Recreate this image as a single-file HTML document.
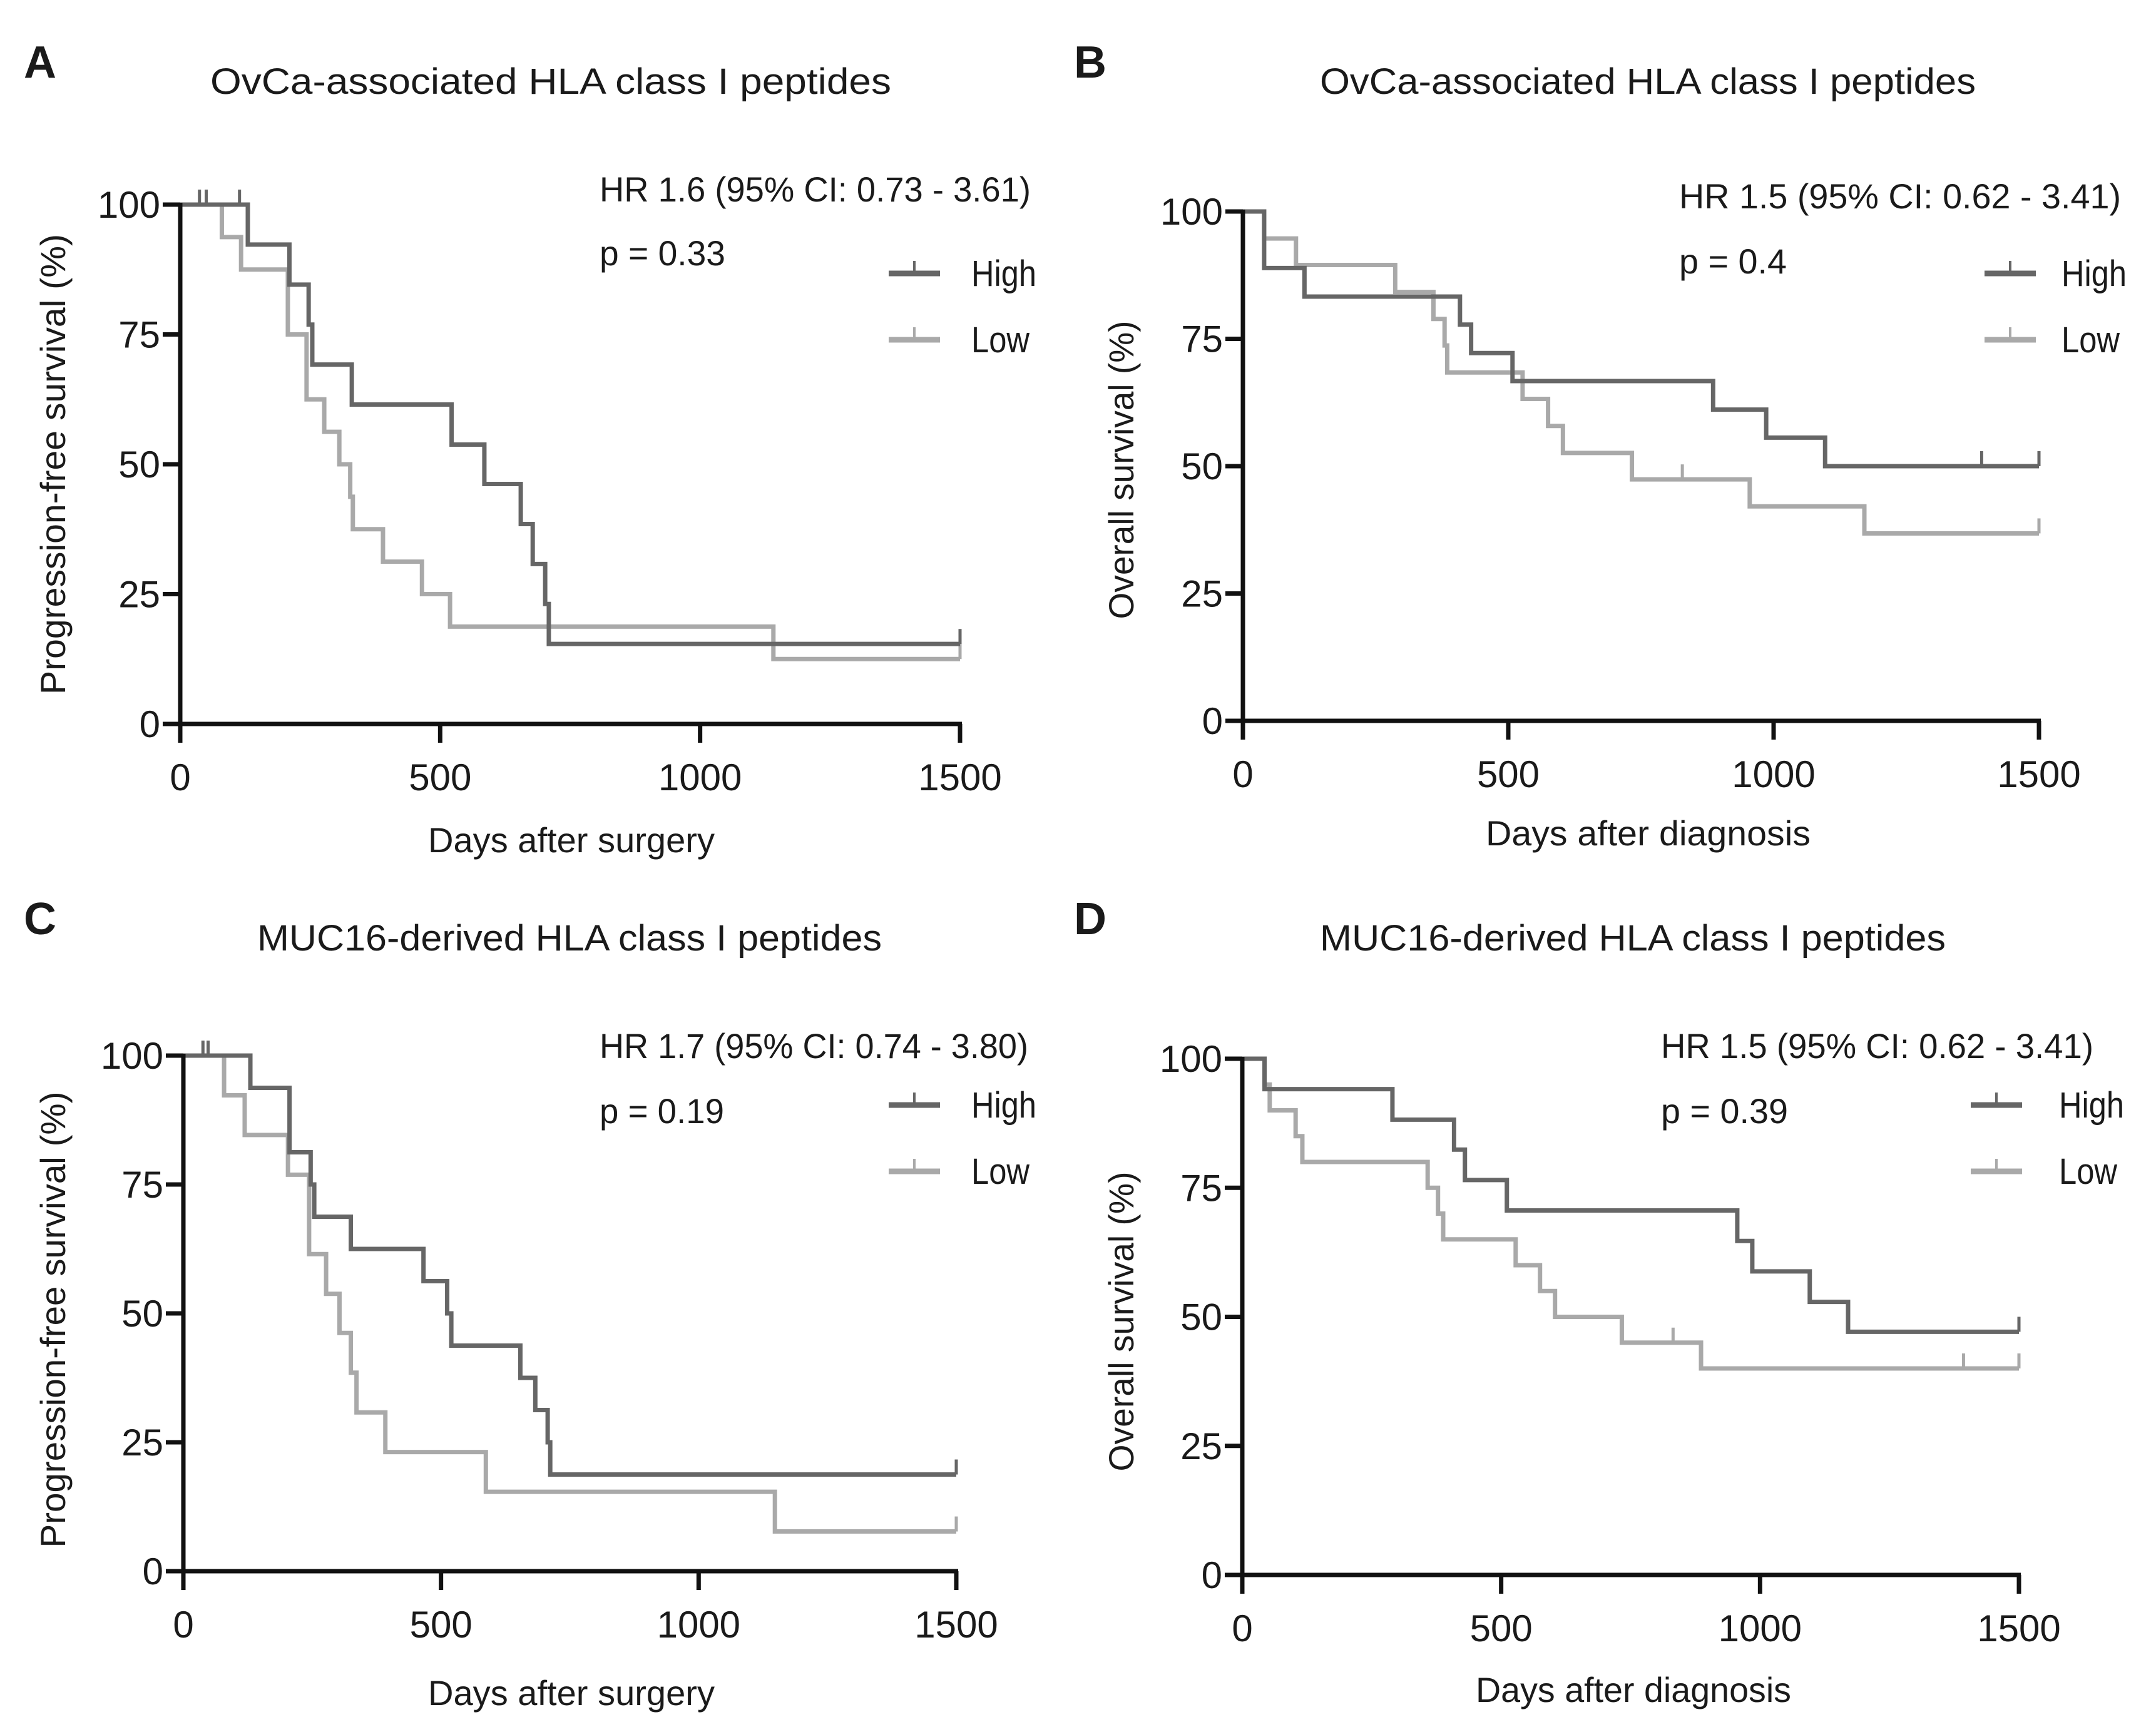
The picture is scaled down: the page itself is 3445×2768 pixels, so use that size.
<!DOCTYPE html>
<html><head><meta charset="utf-8"><style>
html,body{margin:0;padding:0;background:#fff;}
svg{display:block;}
text{font-family:"Liberation Sans Narrow","Liberation Sans",sans-serif;fill:#1a1a1a;}
</style></head><body>
<svg id="fig" width="3445" height="2768" viewBox="0 0 3445 2768" xmlns="http://www.w3.org/2000/svg"></svg>
<script>
// Panel A data
const aHighTimes=[0,130,210,247,254,330,522,585,655,678,702,709];
const aHighSurv=[100,92.3,84.6,76.9,69.2,61.5,53.8,46.2,38.5,30.8,23.1,15.4];
const aHighCens=[37,50,114,1500];
const aLowTimes=[0,80,117,207,243,277,306,327,332,390,465,519,1141];
const aLowSurv=[100,93.75,87.5,75,62.5,56.25,50,43.75,37.5,31.25,25,18.75,12.5];
const aLowCens=[1500];
// Panel B data
const bHighTimes=[0,40,116,409,430,508,886,986,1097];
const bHighSurv=[100,88.9,83.3,77.8,72.2,66.7,61.1,55.6,50];
const bHighCens=[1392,1500];
const bLowTimes=[0,40,100,287,359,380,385,527,575,603,733,955,1171];
const bLowSurv=[100,94.7,89.5,84.2,78.9,73.7,68.4,63.2,57.9,52.6,47.4,42.1,36.8];
const bLowCens=[828,1500];
// Panel C data
const cHighTimes=[0,130,206,247,254,325,466,512,520,654,683,707,712];
const cHighSurv=[100,93.75,81.25,75,68.75,62.5,56.25,50,43.75,37.5,31.25,25,18.75];
const cHighCens=[38,48,1500];
const cLowTimes=[0,79,119,203,244,277,303,325,336,392,587,1148];
const cLowSurv=[100,92.3,84.6,76.9,61.5,53.8,46.2,38.5,30.8,23.1,15.4,7.7];
const cLowCens=[1500];
// Panel D data
const dHighTimes=[0,43,290,409,430,511,956,985,1096,1170];
const dHighSurv=[100,94.1,88.2,82.4,76.5,70.6,64.7,58.8,52.9,47.1];
const dHighCens=[1500];
const dLowTimes=[0,43,53,103,116,358,378,388,528,575,604,733,886];
const dLowSurv=[100,95,90,85,80,75,70,65,60,55,50,45,40];
const dLowCens=[832,1393,1500];
const xTicks=[0,500,1000,1500];
const yTicks=[0,25,50,75,100];

const NS="http://www.w3.org/2000/svg";
const svg=document.getElementById('fig');
function mk(tag,attrs,parent){const e=document.createElementNS(NS,tag);for(const k in attrs)e.setAttribute(k,attrs[k]);(parent||svg).appendChild(e);return e;}
function txt(parent,x,y,s,size,opts){opts=opts||{};const t=mk('text',{x:x,y:y,'font-size':size,'text-anchor':opts.anchor||'start'},parent);
 if(opts.len){t.setAttribute('textLength',opts.len);t.setAttribute('lengthAdjust','spacingAndGlyphs');}
 if(opts.bold)t.setAttribute('font-weight','bold');
 if(opts.rot)t.setAttribute('transform','rotate(-90 '+x+' '+y+')');
 t.textContent=s;return t;}

const HIGH='#666666', LOW='#a9a9a9';
const panels=[
 {id:'a',letter:'A',lx:38,ly:124,x0:288,x1:1534,y0:1157,y1:327,title:'OvCa-associated HLA class I peptides',tx:336,tl:1088,tb:150,
  hr:'HR 1.6 (95% CI: 0.73 - 3.61)',hrx:958,hrl:689,hrb:322,p:'p = 0.33',pl:201,pb:424,legx:1420,legtx:1552,legy:437,
  xt:'Days after surgery',xtx:684,xtl:458,xtb:1362,yt:'Progression-free survival (%)',ytx:104,ytc:742,ytl:736,
  high:[aHighTimes,aHighSurv,aHighCens],low:[aLowTimes,aLowSurv,aLowCens]},
 {id:'b',letter:'B',lx:1716,ly:124,x0:1986,x1:3258,y0:1152,y1:338,title:'OvCa-associated HLA class I peptides',tx:2109,tl:1048,tb:150,
  hr:'HR 1.5 (95% CI: 0.62 - 3.41)',hrx:2683,hrl:706,hrb:333,p:'p = 0.4',pl:172,pb:437,legx:3171,legtx:3294,legy:437,
  xt:'Days after diagnosis',xtx:2374,xtl:519,xtb:1351,yt:'Overall survival (%)',ytx:1811,ytc:751,ytl:477,
  high:[bHighTimes,bHighSurv,bHighCens],low:[bLowTimes,bLowSurv,bLowCens]},
 {id:'c',letter:'C',lx:38,ly:1493,x0:293,x1:1528,y0:2511,y1:1687,title:'MUC16-derived HLA class I peptides',tx:411,tl:998,tb:1519,
  hr:'HR 1.7 (95% CI: 0.74 - 3.80)',hrx:958,hrl:685,hrb:1691,p:'p = 0.19',pl:199,pb:1795,legx:1420,legtx:1552,legy:1766,
  xt:'Days after surgery',xtx:684,xtl:458,xtb:2725,yt:'Progression-free survival (%)',ytx:104,ytc:2109,ytl:729,
  high:[cHighTimes,cHighSurv,cHighCens],low:[cLowTimes,cLowSurv,cLowCens]},
 {id:'d',letter:'D',lx:1716,ly:1493,x0:1985,x1:3226,y0:2517,y1:1692,title:'MUC16-derived HLA class I peptides',tx:2109,tl:1000,tb:1519,
  hr:'HR 1.5 (95% CI: 0.62 - 3.41)',hrx:2654,hrl:691,hrb:1691,p:'p = 0.39',pl:203,pb:1795,legx:3149,legtx:3290,legy:1766,
  xt:'Days after diagnosis',xtx:2358,xtl:504,xtb:2720,yt:'Overall survival (%)',ytx:1811,ytc:2112,ytl:479,
  high:[dHighTimes,dHighSurv,dHighCens],low:[dLowTimes,dLowSurv,dLowCens]}
];

panels.forEach(P=>{
 const g=mk('g',{});
 
 
 const X=d=>P.x0+(P.x1-P.x0)*d/1500;
 const Y=v=>P.y0+(P.y1-P.y0)*v/100;
 let t;
 t=txt(g,P.lx,P.ly,P.letter,72,{bold:true});
  
 t=txt(g,P.tx,P.tb,P.title,58,{len:P.tl});
  
 function series(data,color,name){
  const [times,surv,cens]=data;
  let d='M'+X(times[0])+' '+Y(surv[0]);
  for(let i=1;i<times.length;i++){d+=' H'+X(times[i])+' V'+Y(surv[i]);}
  d+=' H'+X(1500);
  const p=mk('path',{d:d,fill:'none',stroke:color,'stroke-width':7},g);
   
  cens.forEach(c=>{let s=surv[0];for(let i=0;i<times.length;i++){if(times[i]<=c)s=surv[i];}
   const l=mk('line',{x1:X(c),x2:X(c),y1:Y(s),y2:Y(s)-24,stroke:color,'stroke-width':5},g);
    });
 }
 series(P.low,LOW,'low');
 series(P.high,HIGH,'high');
 const ax=mk('g',{stroke:'#111','stroke-width':7},g);
  
 mk('line',{x1:P.x0,x2:P.x0,y1:P.y0+3,y2:P.y1-3},ax);
 mk('line',{x1:P.x0-28,x2:P.x1+3,y1:P.y0,y2:P.y0},ax);
 yTicks.forEach(v=>{mk('line',{x1:P.x0-28,x2:P.x0,y1:Y(v),y2:Y(v)},ax);
  const tt=txt(g,P.x0-32,Y(v)+21,String(v),60,{anchor:'end'});
   });
 xTicks.forEach(v=>{mk('line',{x1:X(v),x2:X(v),y1:P.y0,y2:P.y0+30},ax);
  const tt=txt(g,X(v),P.y0+106,String(v),60,{anchor:'middle'});
   });
 t=txt(g,P.xtx,P.xtb,P.xt,56,{len:P.xtl});
  
 t=txt(g,P.ytx,P.ytc,P.yt,56,{anchor:'middle',rot:true,len:P.ytl});
  
 t=txt(g,P.hrx,P.hrb,P.hr,56,{len:P.hrl});
  
 t=txt(g,P.hrx,P.pb,P.p,56,{len:P.pl});
  
 [['High',HIGH,0],['Low',LOW,106]].forEach(([lab,col,off])=>{
  const lg=mk('g',{},g);
   
  const y=P.legy+off;
  mk('line',{x1:P.legx,x2:P.legx+82,y1:y,y2:y,stroke:col,'stroke-width':9},lg);
  mk('line',{x1:P.legx+41,x2:P.legx+41,y1:y,y2:y-20,stroke:col,'stroke-width':4},lg);
  txt(lg,P.legtx,y+20,lab,58,{len:lab==='High'?104:93});
 });
});
</script>
</body></html>
